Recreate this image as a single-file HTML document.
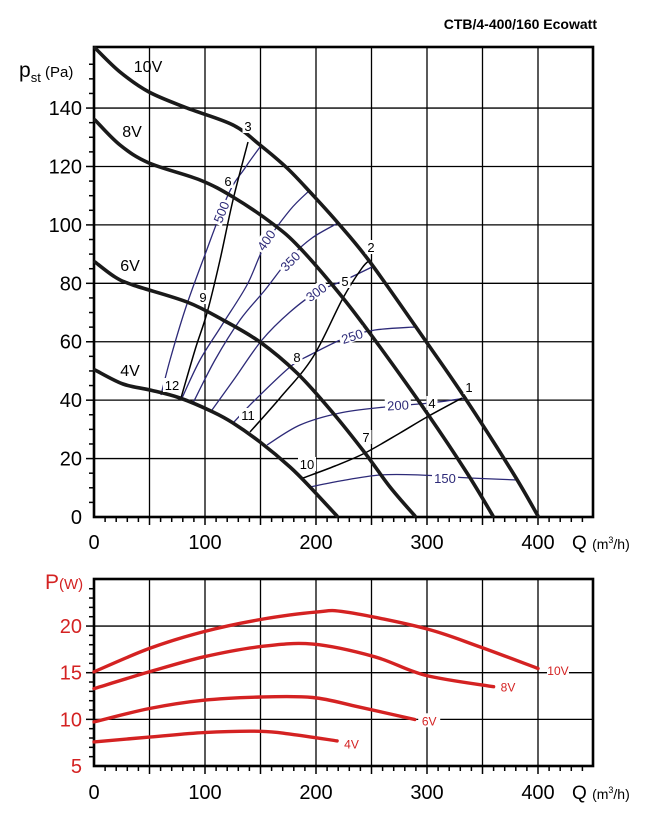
<!DOCTYPE html>
<html><head><meta charset="utf-8"><style>
html,body{margin:0;padding:0;background:#fff;}
svg{display:block;font-family:"Liberation Sans",Arial,sans-serif;}
</style></head><body>
<svg id="s" width="653" height="826" viewBox="0 0 653 826" xmlns="http://www.w3.org/2000/svg">
<text x="597" y="29" text-anchor="end" font-size="14" font-weight="bold">CTB/4-400/160 Ecowatt</text>
<text x="19" y="77" font-size="21">p<tspan font-size="13" dy="5">st</tspan><tspan font-size="15" dy="-5"> (Pa)</tspan></text>
<text x="45" y="589" font-size="21" fill="#d42222">P<tspan font-size="15">(W)</tspan></text>
<g id="g"></g>
</svg>
<script>
var NS="http://www.w3.org/2000/svg",g=document.getElementById('g');
function el(t,a,txt){var e=document.createElementNS(NS,t);for(var k in a)e.setAttribute(k,a[k]);if(txt!==undefined)e.textContent=txt;g.appendChild(e);return e;}
function X(q){return 94+1.11*q;}
function YT(p){return 517-2.921*p;}
function YB(w){return 766-9.33*(w-5);}
function smooth(pts){var d="M"+pts[0][0]+","+pts[0][1];for(var i=0;i<pts.length-1;i++){var p0=pts[i-1]||pts[i],p1=pts[i],p2=pts[i+1],p3=pts[i+2]||p2;var c1=[p1[0]+(p2[0]-p0[0])/6,p1[1]+(p2[1]-p0[1])/6],c2=[p2[0]-(p3[0]-p1[0])/6,p2[1]-(p3[1]-p1[1])/6];d+=" C"+c1[0].toFixed(1)+","+c1[1].toFixed(1)+" "+c2[0].toFixed(1)+","+c2[1].toFixed(1)+" "+p2[0]+","+p2[1];}return d;}
for(var q=50;q<=400;q+=50)el('line',{x1:X(q),y1:47,x2:X(q),y2:517,stroke:'#000','stroke-width':1.3});
for(var p=20;p<=140;p+=20)el('line',{x1:94,y1:YT(p),x2:593,y2:YT(p),stroke:'#000','stroke-width':1.3});
for(var p=5;p<160;p+=5)el('line',{x1:p%20==0?86:89,y1:YT(p),x2:94,y2:YT(p),stroke:'#000','stroke-width':1.5});
for(var q=10;q<450;q+=10)el('line',{x1:X(q),y1:517,x2:X(q),y2:q%50==0?525:522,stroke:'#000','stroke-width':1.5});
el('rect',{x:94,y:47,width:499,height:470,fill:'none',stroke:'#000','stroke-width':2.6});
for(var p=0;p<=140;p+=20)el('text',{x:82,y:YT(p)+7,'text-anchor':'end','font-size':20},p);
for(var q=0;q<=400;q+=100)el('text',{x:X(q),y:549,'text-anchor':'middle','font-size':20},q);
var qt=el('text',{x:572,y:549,'font-size':19});qt.innerHTML='Q <tspan font-size="14">(m<tspan font-size="9" dy="-6">3</tspan><tspan dy="6">/h)</tspan></tspan>';
var B='#2d2a78';
var blue=[
[[161,395],[170,360],[185,310],[203,260],[228,195],[245,168],[260,147]],
[[182,398],[200,360],[222,325],[247,285],[265,245],[290,210],[310,190]],
[[193,403],[215,360],[240,320],[265,290],[290,258],[312,238],[338,223]],
[[212,410],[235,378],[262,340],[290,312],[317,292],[345,280],[372,267]],
[[233,423],[255,400],[290,367],[310,355],[345,338],[375,330],[415,327]],
[[267,445],[300,425],[340,413],[385,407],[430,403],[467,398]],
[[310,487],[340,481],[380,475],[420,475],[470,478],[518,480]]];
blue.forEach(function(c){el('path',{d:smooth(c),fill:'none',stroke:B,'stroke-width':1.3});});
var sys=[
[[181,398],[195,350],[207,313],[220,260],[233,200],[248,142]],
[[250,432],[280,398],[313,357],[343,298],[362,268],[370,260]],
[[303,478],[335,466],[365,453],[400,433],[427,417],[462,398]]];
sys.forEach(function(c){el('path',{d:smooth(c),fill:'none',stroke:'#000','stroke-width':1.5});});
var fan=[
[[95,48],[120,72],[149,92],[187,108],[233,125],[260,145],[287,168],[310,192],[338,223],[370,262],[425,340],[465,398],[513,473],[538,516]],
[[95,120],[120,145],[149,163],[200,180],[233,197],[273,224],[300,248],[343,298],[380,347],[427,413],[467,473],[493,516]],
[[95,262],[115,277],[133,285],[187,302],[223,320],[260,342],[297,373],[333,413],[365,453],[390,487],[415,516]],
[[95,370],[123,384],[150,390],[180,398],[213,412],[233,423],[260,442],[290,467],[310,487],[337,516]]];
fan.forEach(function(c){el('path',{d:smooth(c),fill:'none',stroke:'#1a1a1a','stroke-width':3.6,'stroke-linecap':'round'});});
function blbl(t,x,y,a){var gr=document.createElementNS(NS,'g');gr.setAttribute('transform','translate('+x+','+y+') rotate('+a+')');var r=document.createElementNS(NS,'rect');r.setAttribute('x',-13);r.setAttribute('y',-7);r.setAttribute('width',26);r.setAttribute('height',13);r.setAttribute('fill','#fff');gr.appendChild(r);var tx=document.createElementNS(NS,'text');tx.setAttribute('text-anchor','middle');tx.setAttribute('y',5);tx.setAttribute('font-size',13);tx.setAttribute('fill',B);tx.textContent=t;gr.appendChild(tx);g.appendChild(gr);}
blbl('500',221,212,-68);blbl('400',266,240,-55);blbl('350',290,261,-45);blbl('300',316,292,-35);blbl('250',352,336,-18);blbl('200',398,405,-3);blbl('150',445,478,0);
var nl=[['1',469,387],['2',371,247],['3',248,126],['4',432,403],['5',345,281],['6',228,181],['7',366,437],['8',297,357],['9',203,297],['10',307,464],['11',248,415],['12',172,385]];
nl.forEach(function(n){var w=n[0].length*7+4;el('rect',{x:n[1]-w/2,y:n[2]-7,width:w,height:14,fill:'#fff'});el('text',{x:n[1],y:n[2]+5,'text-anchor':'middle','font-size':13},n[0]);});
[['10V',148,72],['8V',132,137],['6V',130,271],['4V',130,376]].forEach(function(v){el('text',{x:v[1],y:v[2],'text-anchor':'middle','font-size':16},v[0]);});
for(var q=50;q<=400;q+=50)el('line',{x1:X(q),y1:579,x2:X(q),y2:766,stroke:'#000','stroke-width':1.3});
[10,15,20].forEach(function(w){el('line',{x1:94,y1:YB(w),x2:593,y2:YB(w),stroke:'#000','stroke-width':1.3});});
for(var w=6;w<25;w+=1)el('line',{x1:w%5==0?86:89,y1:YB(w),x2:94,y2:YB(w),stroke:'#000','stroke-width':1.5});
for(var q=10;q<450;q+=10)el('line',{x1:X(q),y1:766,x2:X(q),y2:q%50==0?774:771,stroke:'#000','stroke-width':1.5});
el('rect',{x:94,y:579,width:499,height:187,fill:'none',stroke:'#000','stroke-width':2.6});
[5,10,15,20].forEach(function(w){el('text',{x:82,y:YB(w)+7,'text-anchor':'end','font-size':20,fill:'#d42222'},w);});
for(var q=0;q<=400;q+=100)el('text',{x:X(q),y:799,'text-anchor':'middle','font-size':20},q);
var qt2=el('text',{x:572,y:799,'font-size':19});qt2.innerHTML='Q <tspan font-size="14">(m<tspan font-size="9" dy="-6">3</tspan><tspan dy="6">/h)</tspan></tspan>';
var pw=[
[[0,15.1],[50,17.6],[99,19.4],[150,20.7],[200,21.5],[227,21.5],[298,19.75],[347,17.8],[400,15.45]],
[[0,13.3],[50,15.1],[99,16.7],[150,17.8],[197,18.07],[253,16.7],[298,14.74],[360,13.5]],
[[0,9.73],[50,11.16],[99,12.05],[150,12.4],[197,12.34],[238,11.34],[289,9.98]],
[[0,7.58],[50,8.1],[99,8.58],[150,8.72],[178,8.4],[219,7.69]]];
pw.forEach(function(c){el('path',{d:smooth(c.map(function(p){return [+X(p[0]).toFixed(1),+YB(p[1]).toFixed(1)];})),fill:'none',stroke:'#d42222','stroke-width':3.4,'stroke-linecap':'round'});});
[['10V',418,15.3],['8V',373,13.5],['6V',302,9.9],['4V',232,7.4]].forEach(function(v){var x=X(v[1]),y=YB(v[2]);el('rect',{x:x-11,y:y-7,width:22,height:14,fill:'#fff'});el('text',{x:x,y:y+5,'text-anchor':'middle','font-size':12,fill:'#d42222'},v[0]);});
</script>
</body></html>
